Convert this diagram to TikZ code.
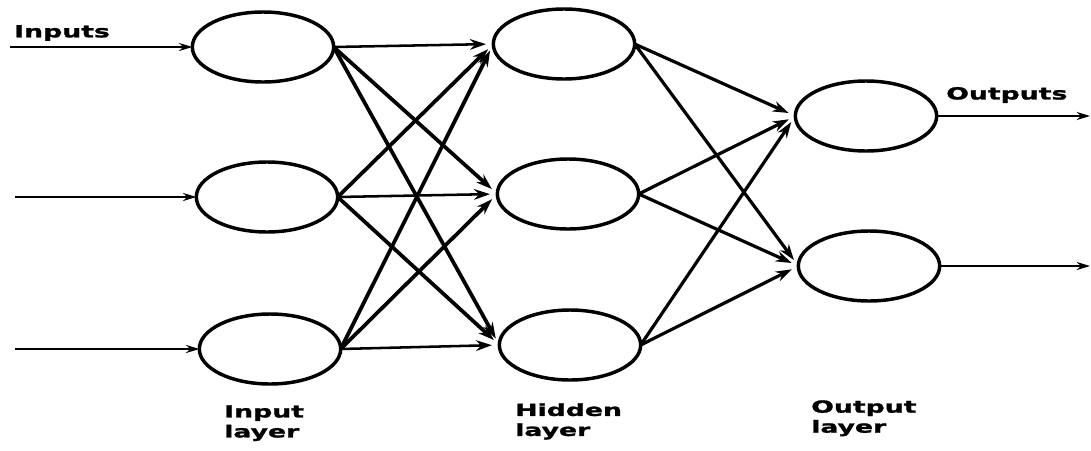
\documentclass[tikz,border=0pt]{standalone}
\usepackage{fontspec}
\newfontfamily\labfont[FakeStretch=1.6,FakeBold=1.5]{DejaVu Sans}
\usetikzlibrary{shapes.geometric,arrows.meta}
\begin{document}
\begin{tikzpicture}[x=0.75pt,y=-0.75pt,
  neuron/.style={ellipse,draw,line width=2.6pt,minimum width=106pt,minimum height=52.5pt,inner sep=0pt,outer sep=0pt},
  link/.style={line width=2.8pt,-{Stealth[length=12pt,width=8pt]},shorten >=5.5pt},
  flat/.style={line width=1.8pt,-{Stealth[length=10pt,width=6pt]}},
  lab/.style={font=\labfont\bfseries\fontsize{12.5pt}{15pt}\selectfont,inner sep=0pt}]
\useasboundingbox (0,0) rectangle (1091,450);
% nodes
\node[neuron] (i1) at (263,47) {};
\node[neuron] (i2) at (267,197) {};
\node[neuron] (i3) at (270,349) {};
\node[neuron] (h1) at (564,44) {};
\node[neuron] (h2) at (568,194) {};
\node[neuron] (h3) at (570,345) {};
\node[neuron] (o1) at (866,116) {};
\node[neuron] (o2) at (869,266) {};
% free ends
\coordinate (a1) at (10,47);
\coordinate (a2) at (15,197);
\coordinate (a3) at (15,349);
\coordinate (b1) at (1090,116);
\coordinate (b2) at (1090,266);
% input arrows
\draw[flat] (a1) -- (i1.west);
\draw[flat] (a2) -- (i2.west);
\draw[flat] (a3) -- (i3.west);
% input -> hidden
\foreach \i in {1,2,3}{
  \foreach \h in {1,2,3}{
    \ifnum\i=\h
      \draw[link,line width=1.9pt] (i\i.east) -- (h\h.west);
    \else
      \draw[link] (i\i.east) -- (h\h.west);
    \fi
  }
}
% hidden -> output
\foreach \h in {1,2,3}{
  \foreach \o in {1,2}{
    \draw[link,line width=2.4pt] (h\h.east) -- (o\o.west);
  }
}
% output arrows
\draw[flat] (o1.east) -- (b1);
\draw[flat] (o2.east) -- (b2);
% labels
\node[lab,anchor=west] (tin) at (14,33) {Inputs};
\node[lab,anchor=west] (tout) at (946,95) {Outputs};
\node[lab,anchor=north west,align=left] (li) at (224,405) {Input\\layer};
\node[lab,anchor=north west,align=left] (lh) at (515,403) {Hidden\\layer};
\node[lab,anchor=north west,align=left] (lo) at (811,400) {Output\\layer};
\end{tikzpicture}
\end{document}
